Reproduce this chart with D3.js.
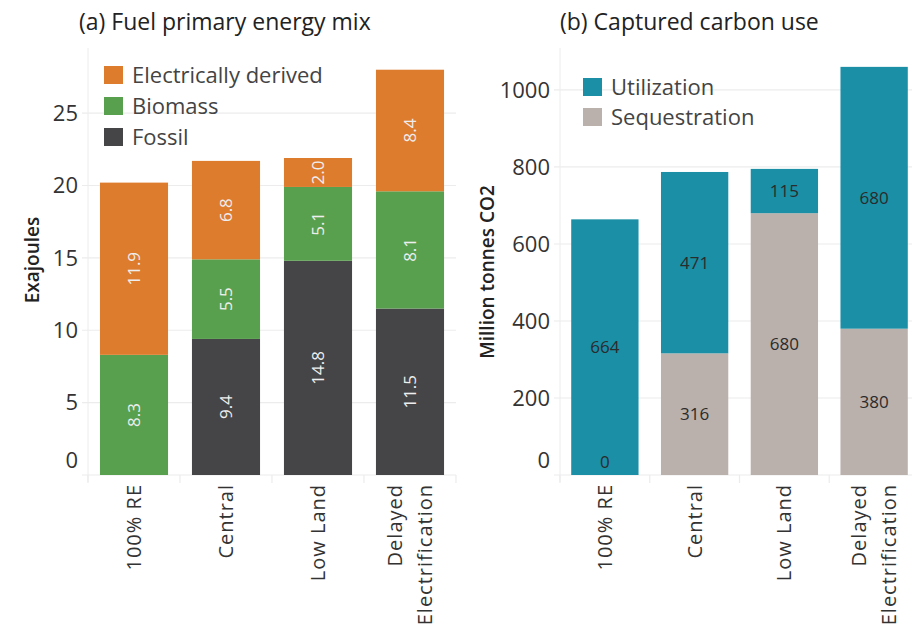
<!DOCTYPE html>
<html>
<head>
<meta charset="utf-8">
<script src="https://cdn.jsdelivr.net/npm/d3@7"></script>
<style>
  html, body { margin: 0; padding: 0; background: #fff; }
  svg { display: block; font-family: "Open Sans", "Noto Sans", sans-serif; }
</style>
</head>
<body>
<svg id="chart" width="912" height="627"></svg>
<script>
// ---------- DATA ----------
const categories = ["100% RE", "Central", "Low Land", "Delayed Electrification"];
const categoryLines = [["100% RE"], ["Central"], ["Low Land"], ["Delayed", "Electrification"]];

// Panel (a) Fuel primary energy mix (Exajoules)
const fossil = [0, 9.4, 14.8, 11.5];
const biomass = [8.3, 5.5, 5.1, 8.1];
const electricallyDerived = [11.9, 6.8, 2.0, 8.4];
const fuelSeries = ["Fossil", "Biomass", "Electrically derived"];
const fuelLegend = ["Electrically derived", "Biomass", "Fossil"];
const fuelTicks = [0, 5, 10, 15, 20, 25];

// Panel (b) Captured carbon use (Million tonnes CO2)
const sequestration = [0, 316, 680, 380];
const utilization = [664, 471, 115, 680];
const carbonSeries = ["Sequestration", "Utilization"];
const carbonLegend = ["Utilization", "Sequestration"];
const carbonTicks = [0, 200, 400, 600, 800, 1000];

// ---------- STYLE ----------
const colors = {
  "Fossil": "#454547",
  "Biomass": "#59A04E",
  "Electrically derived": "#DE7C2E",
  "Utilization": "#1A8FA5",
  "Sequestration": "#BAB0AC"
};
const gridColor = "#ececec";
const textColor = "#333";

const svg = d3.select("#chart");
svg.append("rect").attr("width", 912).attr("height", 627).attr("fill", "#fff");

function panel(opts) {
  const g = svg.append("g");
  const x = d3.scaleBand().domain(categories).range([opts.left, opts.right])
    .paddingInner(opts.padInner).paddingOuter(opts.padInner / 2);
  const y = d3.scaleLinear().domain([0, opts.yMax]).range([475, 48]);

  // vertical axis line
  g.append("line").attr("x1", opts.left).attr("x2", opts.left)
    .attr("y1", 48).attr("y2", 482).attr("stroke", gridColor);

  // gridlines
  g.selectAll(".grid").data(opts.ticks).enter().append("line")
    .attr("x1", opts.left - 6).attr("x2", opts.right)
    .attr("y1", d => y(d)).attr("y2", d => y(d))
    .attr("stroke", gridColor).attr("stroke-width", 1.2);

  // band separator ticks below axis
  const seps = categories.map(c => x(c) - x.step() * x.paddingInner() / 2);
  seps.push(opts.right);
  g.selectAll(".sep").data(seps).enter().append("line")
    .attr("x1", d => d).attr("x2", d => d).attr("y1", 475).attr("y2", 483)
    .attr("stroke", gridColor).attr("stroke-width", 1.2);

  // y tick labels
  g.selectAll(".ytick").data(opts.ticks).enter().append("text")
    .attr("x", opts.left - 10)
    .attr("y", d => d === 0 ? y(d) - 15 : y(d))
    .attr("dy", "0.35em")
    .attr("text-anchor", "end")
    .attr("font-size", 22).attr("fill", textColor)
    .text(d => d);

  // stacked bars
  const rows = categories.map((c, i) => {
    const r = { cat: c };
    opts.series.forEach((s, j) => r[s] = opts.values[j][i]);
    return r;
  });
  const stacked = d3.stack().keys(opts.series)(rows);
  stacked.forEach(layer => {
    g.append("g").selectAll("rect").data(layer).enter().append("rect")
      .attr("x", d => x(d.data.cat))
      .attr("width", x.bandwidth())
      .attr("y", d => y(d[1]))
      .attr("height", d => y(d[0]) - y(d[1]))
      .attr("fill", colors[layer.key]);
  });

  // segment labels
  stacked.forEach(layer => {
    layer.forEach(d => {
      const v = d.data[layer.key];
      if (!opts.showZero && v === 0) return;
      const cx = x(d.data.cat) + x.bandwidth() / 2;
      let cy = (y(d[0]) + y(d[1])) / 2;
      cy = Math.min(cy, y(0) - 13);
      const t = g.append("text")
        .attr("font-size", opts.labelSize)
        .attr("fill", opts.labelColor)
        .attr("text-anchor", "middle")
        .attr("dy", "0.35em")
        .text(opts.fmt(v));
      if (opts.rotateLabels) {
        t.attr("transform", `translate(${cx},${cy}) rotate(-90)`);
      } else {
        t.attr("x", cx).attr("y", cy);
      }
    });
  });

  // x category labels (rotated)
  categories.forEach((c, i) => {
    const lines = categoryLines[i];
    const cx = x(c) + x.bandwidth() / 2;
    lines.forEach((ln, k) => {
      const off = (k - (lines.length - 1) / 2) * 30;
      g.append("text")
        .attr("transform", `translate(${cx + off},484) rotate(-90)`)
        .attr("text-anchor", "end")
        .attr("dy", "0.35em")
        .attr("font-size", 20)
        .attr("letter-spacing", 1)
        .attr("fill", textColor)
        .text(ln);
    });
  });

  // title
  g.append("text").attr("x", opts.titleX).attr("y", 22).attr("dy", "0.35em")
    .attr("font-size", 23).attr("fill", "#222").text(opts.title);

  // y axis title
  g.append("text")
    .attr("transform", `translate(${opts.yTitleX},${opts.yTitleY}) rotate(-90)`)
    .attr("text-anchor", "middle").attr("dy", "0.35em")
    .attr("font-size", 19).attr("font-weight", 600).attr("fill", "#222")
    .text(opts.yTitle);

  // legend
  opts.legend.forEach((s, i) => {
    const ly = opts.legendY + i * opts.legendStep;
    g.append("rect").attr("x", opts.legendX).attr("y", ly - 9)
      .attr("width", 19).attr("height", 18).attr("fill", colors[s]);
    g.append("text").attr("x", opts.legendX + 28).attr("y", ly).attr("dy", "0.35em")
      .attr("font-size", 22).attr("fill", "#444").text(s);
  });
}

panel({
  left: 88, right: 456, padInner: 0.26, yMax: 29.5,
  ticks: fuelTicks, series: fuelSeries,
  values: [fossil, biomass, electricallyDerived],
  showZero: false, rotateLabels: true, labelSize: 17, labelColor: "#eeeeee",
  fmt: v => v.toFixed(1),
  title: "(a) Fuel primary energy mix", titleX: 79,
  yTitle: "Exajoules", yTitleX: 32, yTitleY: 260,
  legend: fuelLegend, legendX: 104, legendY: 75, legendStep: 31
});

panel({
  left: 560, right: 919, padInner: 0.25, yMax: 1109,
  ticks: carbonTicks, series: carbonSeries,
  values: [sequestration, utilization],
  showZero: true, rotateLabels: false, labelSize: 17, labelColor: "#2b2b2b",
  fmt: v => String(v),
  title: "(b) Captured carbon use", titleX: 560,
  yTitle: "Million tonnes CO2", yTitleX: 487, yTitleY: 272,
  legend: carbonLegend, legendX: 583, legendY: 87, legendStep: 30
});
</script>
</body>
</html>
